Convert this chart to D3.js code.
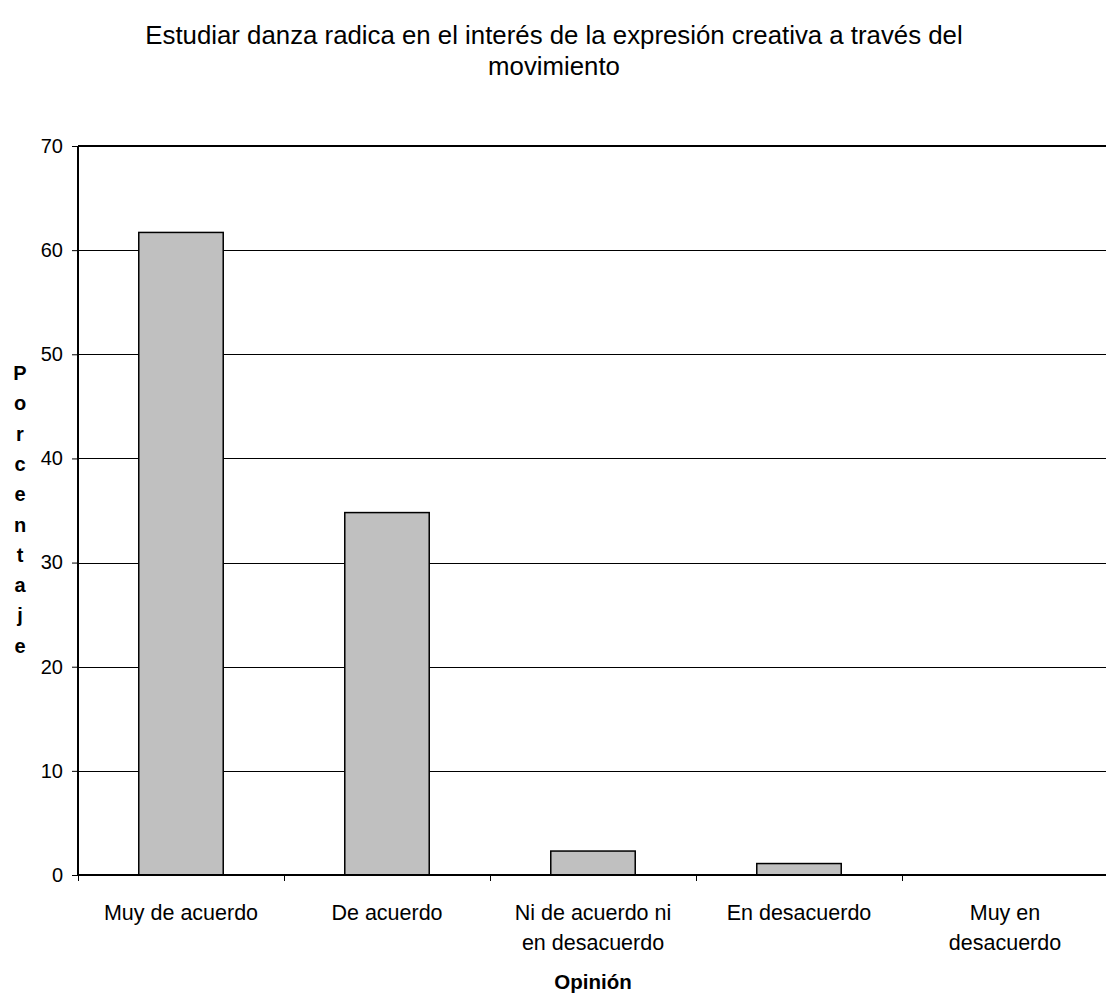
<!DOCTYPE html>
<html>
<head>
<meta charset="utf-8">
<script src="https://cdn.jsdelivr.net/npm/d3@7"></script>
<style>
  html, body { margin: 0; padding: 0; background: #fff; }
  svg { display: block; font-family: "Liberation Sans", Arial, sans-serif; }
</style>
</head>
<body>
<svg id="chart" width="1106" height="996"></svg>
<script>
const categories = [
  ["Muy de acuerdo"],
  ["De acuerdo"],
  ["Ni de acuerdo ni", "en desacuerdo"],
  ["En desacuerdo"],
  ["Muy en", "desacuerdo"]
];
const values = [61.7, 34.8, 2.3, 1.1, 0];
const yTicks = [0, 10, 20, 30, 40, 50, 60, 70];
const titleLines = ["Estudiar danza radica en el interés de la expresión creativa a través del", "movimiento"];
const yTitle = "Porcentaje";
const xTitle = "Opinión";

(function () {
const svg = d3.select("#chart");
const pLeft = 78, pRight = 1108, pTop = 146, pBottom = 875;

const x = d3.scaleBand().domain(d3.range(categories.length)).range([pLeft, pRight]).paddingInner(0.59).paddingOuter(0.295);
const xTickScale = d3.scaleLinear().domain([0, categories.length]).range([pLeft, pRight]);
const y = d3.scaleLinear().domain([0, 70]).range([pBottom, pTop]);

// gridlines
svg.append("g").selectAll("line").data(yTicks.filter(d => d > 0 && d < 70)).join("line")
  .attr("x1", pLeft).attr("x2", pRight)
  .attr("y1", d => Math.round(y(d)) + 0.5).attr("y2", d => Math.round(y(d)) + 0.5)
  .attr("stroke", "#000").attr("stroke-width", 1);

// top border
svg.append("line").attr("x1", pLeft).attr("x2", pRight).attr("y1", y(70)).attr("y2", y(70))
  .attr("stroke", "#000").attr("stroke-width", 2);

// bars
svg.append("g").selectAll("rect").data(values).join("rect")
  .attr("x", (d, i) => x(i))
  .attr("width", x.bandwidth())
  .attr("y", d => y(d))
  .attr("height", d => y(0) - y(d))
  .attr("fill", "#c0c0c0")
  .attr("stroke", d => d > 0 ? "#000" : "none")
  .attr("stroke-width", 1.5);

// y axis
const yAxis = d3.axisLeft(y).tickValues(yTicks).tickSize(6).tickPadding(9).tickFormat(d3.format("d"));
const gy = svg.append("g").attr("transform", `translate(${pLeft},0)`).call(yAxis);
gy.attr("font-size", 20).attr("font-family", "Liberation Sans, Arial, sans-serif");
gy.select(".domain").attr("stroke", "#000").attr("stroke-width", 2).attr("d", `M0,${pTop}V${pBottom}`);
gy.selectAll(".tick line").attr("stroke", "#000");
gy.selectAll(".tick text").attr("fill", "#000");

// x axis
const xAxis = d3.axisBottom(xTickScale).tickValues(d3.range(categories.length)).tickSize(6).tickFormat("");
const gx = svg.append("g").attr("transform", `translate(0,${pBottom})`).call(xAxis);
gx.select(".domain").attr("stroke", "#000").attr("stroke-width", 2).attr("d", `M${pLeft},0H${pRight}`);
gx.selectAll(".tick line").attr("stroke", "#000");

// category labels
const lab = svg.append("g").selectAll("text").data(categories).join("text")
  .attr("text-anchor", "middle")
  .attr("font-size", 21.5)
  .attr("fill", "#000")
  .attr("transform", (d, i) => `translate(${x(i) + x.bandwidth() / 2},920)`);
lab.selectAll("tspan").data(d => d).join("tspan")
  .attr("x", 0).attr("dy", (d, j) => j === 0 ? 0 : 30).text(d => d);

// x title
svg.append("text").attr("x", (pLeft + pRight) / 2).attr("y", 989)
  .attr("text-anchor", "middle").attr("font-size", 20.5).attr("font-weight", "bold").text(xTitle);

// y title (stacked letters)
svg.append("g").selectAll("text").data(yTitle.split("")).join("text")
  .attr("x", 20).attr("y", (d, i) => 380 + i * 30.3)
  .attr("text-anchor", "middle").attr("font-size", 20).attr("font-weight", "bold").text(d => d);

// title
svg.append("g").selectAll("text").data(titleLines).join("text")
  .attr("x", 554).attr("y", (d, i) => 44 + i * 31)
  .attr("text-anchor", "middle").attr("font-size", 25.8).attr("fill", "#000").text(d => d);
})();
</script>
</body>
</html>
